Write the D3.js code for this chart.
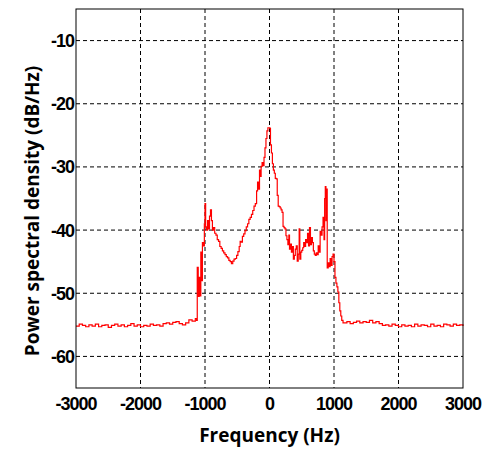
<!DOCTYPE html>
<html>
<head>
<meta charset="utf-8">
<script src="https://cdn.jsdelivr.net/npm/d3@7"></script>
<style>
  html, body { margin: 0; padding: 0; background: #fff; }
  .tick-label { font-family: "Liberation Sans", Arial, sans-serif; font-weight: bold; font-size: 18px; letter-spacing: -1px; fill: #000; }
  .axis-title { font-family: "Open Sans", "Noto Sans", sans-serif; font-weight: bold; font-size: 19px; fill: #000; }
</style>
</head>
<body>
<div id="chart"></div>
<script>
// x ticks and y ticks as printed
var xTicks = [-3000, -2000, -1000, 0, 1000, 2000, 3000];
var yTicks = [-10, -20, -30, -40, -50, -60];

// frequency samples (Hz)
var freqHz = [
  -3000, -2950, -2900, -2850, -2800, -2750, -2700, -2650, -2600, -2550,
  -2500, -2450, -2400, -2350, -2300, -2250, -2200, -2150, -2100, -2050,
  -2000, -1950, -1900, -1850, -1800, -1750, -1700, -1650, -1600, -1550,
  -1500, -1450, -1400, -1350, -1300, -1250, -1200,
  -1150, -1130, -1120, -1105, -1090, -1080, -1065, -1050, -1040, -1025,
  -1010, -1000, -990, -975, -960, -945, -930, -915, -900, -885,
  -870, -850, -830, -810, -790, -770, -750, -730, -710, -690,
  -670, -650, -630, -610, -590, -570, -550, -530, -510, -490,
  -470, -455, -440, -420, -400, -380, -360, -340, -320, -300,
  -280, -260, -240, -220, -200, -185, -170, -155, -140, -130,
  -115, -100, -85, -70, -55, -40, -25, -10, 5, 15,
  30, 45, 60, 75, 90, 105, 120, 135, 150, 165,
  180, 195, 210, 225, 240, 255, 270, 285, 300, 310,
  325, 340, 355, 370, 385, 400, 415, 430, 445, 460,
  470, 485, 500, 515, 530, 545, 560, 575, 590, 605,
  620, 635, 650, 665, 680, 695, 710, 725, 740, 755,
  770, 785, 800, 815, 830, 845, 855, 865, 875, 885,
  895, 910, 925, 940, 955, 970, 985, 1000, 1015, 1030,
  1045, 1060, 1075, 1090, 1105, 1120, 1140,
  1150, 1200, 1250, 1300, 1350, 1400, 1450, 1500, 1550, 1600,
  1650, 1700, 1750, 1800, 1850, 1900, 1950, 2000, 2050, 2100,
  2150, 2200, 2250, 2300, 2350, 2400, 2450, 2500, 2550, 2600,
  2650, 2700, 2750, 2800, 2850, 2900, 2950, 3000
];

// power spectral density (dB/Hz) at each sample
var psdDb = [
  -55.2, -54.9, -55.1, -55.3, -55.0, -55.2, -54.9, -55.3, -55.1, -55.0,
  -55.4, -55.1, -54.9, -55.2, -55.0, -55.3, -55.1, -54.8, -55.2, -55.0,
  -55.3, -55.1, -55.2, -54.9, -55.1, -55.0, -55.2, -54.8, -54.7, -54.9,
  -54.6, -54.5, -54.8, -55.0, -54.7, -54.2, -54.4,
  -54.0, -54.3, -45.9, -50.5, -47.5, -50.4, -43.5, -48.0, -42.0, -42.5,
  -39.0, -35.8, -39.5, -40.0, -38.5, -39.8, -37.8, -36.8, -38.5, -40.0,
  -39.6, -40.5, -40.8, -41.5, -41.8, -42.6, -42.9, -43.3, -43.6, -43.9,
  -44.2, -44.4, -44.8, -45.0, -45.3, -44.9, -44.6, -44.5, -44.0, -43.4,
  -42.6, -41.8, -41.9, -41.0, -40.6, -40.1, -39.5, -39.0, -38.3, -38.0,
  -37.5, -36.9, -36.2, -35.8, -33.8, -32.4, -33.5, -30.5, -31.5, -29.9,
  -29.3, -29.8, -28.5, -27.0, -25.5, -24.3, -23.8, -23.8, -23.9, -26.5,
  -27.8, -29.5, -30.5, -31.0, -31.8, -31.9, -34.5, -36.2, -36.3, -36.5,
  -36.8, -37.2, -39.4, -39.6, -39.8, -40.9, -41.5, -42.3, -40.8, -43.0,
  -42.2, -43.5, -42.6, -44.6, -44.0, -43.0, -42.5, -44.9, -43.8, -39.8,
  -44.6, -43.5, -43.2, -42.8, -42.0, -42.6, -41.5, -42.0, -40.5, -42.5,
  -39.6, -42.3, -41.2, -42.0, -43.3, -43.8, -44.0, -43.6, -43.9, -42.5,
  -43.5, -40.2, -40.8, -39.5, -38.0, -41.5, -35.0, -33.1, -38.5, -33.5,
  -46.0, -45.2, -45.8, -44.5, -45.6, -44.2, -43.8, -45.0, -47.5, -48.4,
  -49.0, -49.8, -51.5, -52.8, -53.6, -54.3, -54.7,
  -54.7, -54.5, -54.8, -54.6, -54.4, -54.7, -54.5, -54.6, -54.3, -54.7,
  -54.5, -54.8, -55.1, -55.0, -55.2, -54.9, -55.1, -55.3, -55.0, -55.2,
  -55.1, -55.3, -54.9, -55.2, -55.0, -55.1, -55.3, -54.9, -55.2, -55.1,
  -55.3, -54.9, -55.0, -55.2, -54.9, -55.1, -55.0, -55.2
];

var W = 489, H = 449;
var margin = {top: 9, right: 26, bottom: 61, left: 76};
var width = W - margin.left - margin.right,
    height = H - margin.top - margin.bottom;

var svg = d3.select("#chart")
  .append("svg")
  .attr("width", W)
  .attr("height", H);

var g = svg.append("g")
  .attr("transform", "translate(" + margin.left + "," + margin.top + ")");

var x = d3.scaleLinear().domain([-3000, 3000]).range([0, width]);
var y = d3.scaleLinear().domain([-65, -5]).range([height, 0]);

// dashed grid
g.selectAll(".vgrid")
  .data(xTicks.slice(1, -1))
  .enter().append("line")
  .attr("x1", d => x(d)).attr("x2", d => x(d))
  .attr("y1", 0).attr("y2", height)
  .attr("stroke", "#000")
  .attr("stroke-dasharray", "4,3");

g.selectAll(".hgrid")
  .data(yTicks)
  .enter().append("line")
  .attr("x1", 0).attr("x2", width)
  .attr("y1", d => y(d)).attr("y2", d => y(d))
  .attr("stroke", "#000")
  .attr("stroke-dasharray", "4,3");

// trace
var pts = freqHz.map((f, i) => [f, psdDb[i]]);
var line = d3.line()
  .x(d => x(d[0]))
  .y(d => y(d[1]))
  .curve(d3.curveStepAfter);

g.append("path")
  .datum(pts)
  .attr("d", line)
  .attr("fill", "none")
  .attr("stroke", "#ff0000")
  .attr("stroke-width", 1.2);

// frame
g.append("rect")
  .attr("width", width).attr("height", height)
  .attr("fill", "none")
  .attr("stroke", "#000")
  .attr("stroke-width", 1);

// tick labels
g.selectAll(".ylab")
  .data(yTicks)
  .enter().append("text")
  .attr("class", "tick-label")
  .attr("x", -2)
  .attr("y", d => y(d))
  .attr("dy", "0.36em")
  .attr("text-anchor", "end")
  .text(d => d);

g.selectAll(".xlab")
  .data(xTicks)
  .enter().append("text")
  .attr("class", "tick-label")
  .attr("x", d => x(d))
  .attr("y", height + 22)
  .attr("text-anchor", "middle")
  .text(d => d);

// axis titles
svg.append("text")
  .attr("class", "axis-title")
  .attr("x", margin.left + x(0))
  .attr("y", 442)
  .attr("text-anchor", "middle")
  .text("Frequency (Hz)");

svg.append("text")
  .attr("class", "axis-title")
  .attr("transform", "translate(39,211) rotate(-90)")
  .attr("text-anchor", "middle")
  .text("Power spectral density (dB/Hz)");
</script>
</body>
</html>
